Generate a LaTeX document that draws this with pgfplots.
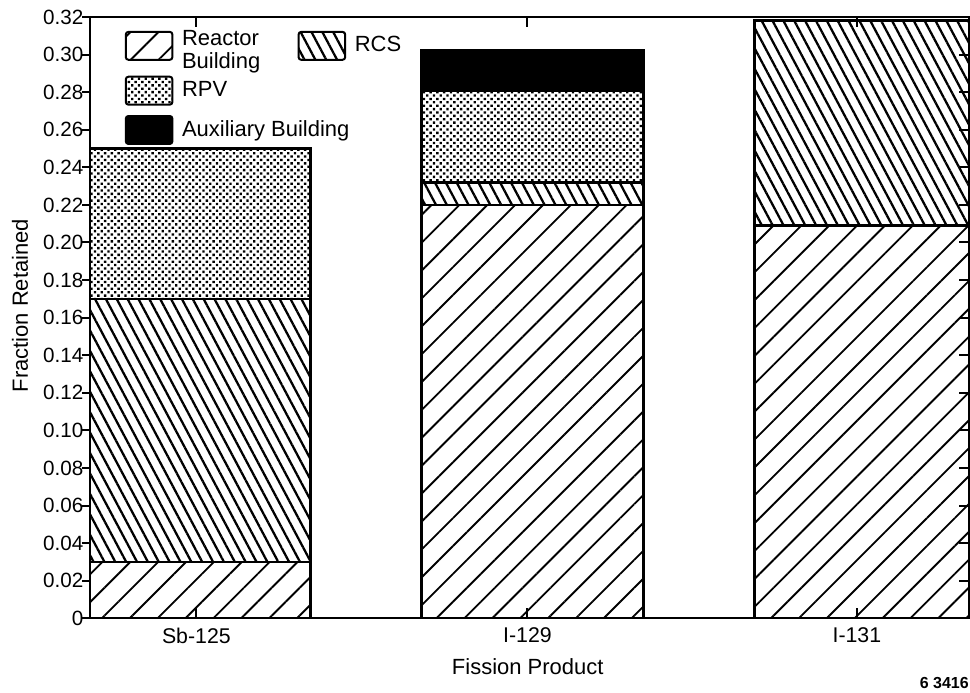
\documentclass[border=0pt]{standalone}
\usepackage{pgfplots}
\pgfplotsset{compat=1.18}
\usepackage{pgfplotstable}
\usepackage{fontspec}
\setmainfont{Liberation Sans}
\usetikzlibrary{patterns.meta}

\pgfplotstableread{
x RB RCS RPV AUX
0 0.030 0.140 0.080 0.000
1 0.220 0.012 0.049 0.021
2 0.209 0.109 0.000 0.000
}\data

\pgfplotsset{swatch/.style={legend image code/.code={
  \draw[##1,line width=1.5pt,rounded corners=2pt] (0pt,-10.5pt) rectangle (35pt,10.5pt);}}}

\begin{document}
\fontsize{15.5}{18}\selectfont
\begin{tikzpicture}
\begin{axis}[
  scale only axis, width=660pt, height=451.5pt,
  xmin=-0.33, xmax=2.312, ymin=0, ymax=0.32,
  ybar stacked, bar width=166.5pt,
  axis line style={line width=1.5pt},
  tick style={line width=1.5pt,black},
  major tick length=6pt,
  tick align=outside,
  xtick=\empty,
  ytick={0,0.02,0.04,0.06,0.08,0.10,0.12,0.14,0.16,0.18,0.20,0.22,0.24,0.26,0.28,0.30,0.32},
  yticklabels={0,0.02,0.04,0.06,0.08,0.10,0.12,0.14,0.16,0.18,0.20,0.22,0.24,0.26,0.28,0.30,0.32},
  ytick pos=left,
  yticklabel style={inner sep=0pt,anchor=east,xshift=1.2pt,font=\fontsize{15.5}{18}\selectfont},
  ylabel={Fraction Retained},
  ylabel style={at={(axis description cs:-0.0705,0.52)},anchor=base,font=\fontsize{16.5}{19}\selectfont},
  xlabel={Fission Product},
  xlabel style={at={(axis description cs:0.498,0)},anchor=base,yshift=-42pt,font=\fontsize{16.5}{19}\selectfont},
  legend columns=2,
  legend style={at={(axis description cs:0,1)},anchor=north west,xshift=26pt,yshift=-6pt,
    draw=none,fill=none,inner sep=0pt,row sep=7pt,column sep=4.5pt,
    font=\fontsize{16.5}{19}\selectfont,
    cells={anchor=west,inner xsep=0pt},
    /tikz/every even column/.append style={column sep=26pt}},
]
\addplot[swatch,draw=black,line width=2pt,pattern={Lines[angle=45,distance=14.8pt,line width=1.4pt]},pattern color=black] table[x=x,y=RB]{\data};
\addlegendentry{\raisebox{2pt}{\begin{tabular}{@{}l@{}}Reactor\\[-1.5pt]Building\end{tabular}}}
\addplot[swatch,draw=black,line width=2pt,pattern={Lines[angle=-62,distance=7.2pt,line width=1.7pt]},pattern color=black] table[x=x,y=RCS]{\data};
\addlegendentry{RCS}
\addplot[swatch,draw=black,line width=2pt,pattern={Dots[angle=45,distance=3.6pt,radius=1.25pt]},pattern color=black] table[x=x,y=RPV]{\data};
\addlegendentry{RPV}
\addlegendimage{empty legend}
\addlegendentry{}
\addplot[swatch,draw=black,line width=2pt,fill=black] table[x=x,y=AUX]{\data};
\addlegendentry{\makebox[0pt][l]{Auxiliary Building}}
\end{axis}
\begin{axis}[
  scale only axis, width=660pt, height=451.5pt,
  xmin=-0.33, xmax=2.312, ymin=0, ymax=0.32,
  axis line style={line width=1.5pt},
  tick style={line width=1.5pt,black},
  major tick length=7.5pt,
  tick align=inside,
  xtick={-0.01,0.985,1.975},
  xticklabels={Sb-125,I-129,I-131},
  xtick pos=both,
  xticklabel pos=bottom,
  xticklabel style={inner sep=0pt,anchor=north,yshift=-7pt,font=\fontsize{16}{19}\selectfont},
  ytick={0,0.02,0.04,0.06,0.08,0.10,0.12,0.14,0.16,0.18,0.20,0.22,0.24,0.26,0.28,0.30,0.32},
  yticklabels={},
  ytick pos=right,
]
\end{axis}
\node[anchor=base east,font=\fontsize{12}{14}\selectfont\bfseries,inner sep=0pt] at ([yshift=-53pt]current axis.south east) {6 3416};
\pgfresetboundingbox
\path[use as bounding box] ([shift={(-67.5pt,-55.5pt)}]current axis.south west) rectangle ([shift={(0.75pt,12.75pt)}]current axis.north east);
\end{tikzpicture}
\end{document}
